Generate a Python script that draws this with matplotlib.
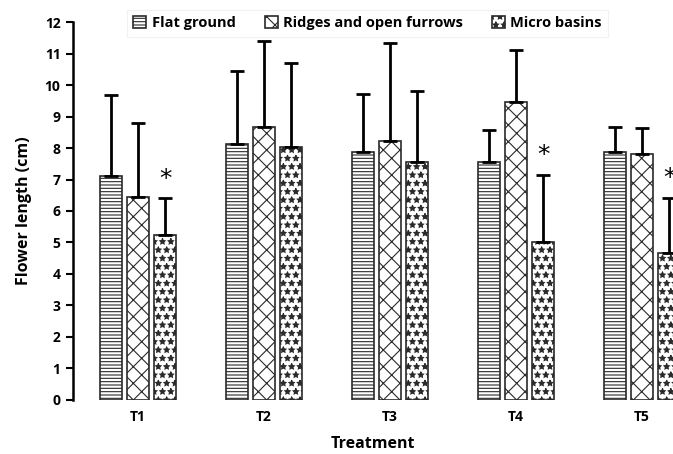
import matplotlib
matplotlib.use('Agg')
import matplotlib.pyplot as plt
import numpy as np

treatments = ['T1', 'T2', 'T3', 'T4', 'T5']
series = ['Flat ground', 'Ridges and open furrows', 'Micro basins']
flat = [7.10, 8.13, 7.87, 7.56, 7.87]
ridges = [6.44, 8.67, 8.22, 9.46, 7.80]
micro = [5.25, 8.03, 7.56, 5.00, 4.66]
flat_err = [2.58, 2.31, 1.84, 1.01, 0.80]
ridges_err = [2.35, 2.73, 3.11, 1.64, 0.83]
micro_err = [1.15, 2.67, 2.25, 2.14, 1.75]
# treatments marked with an asterisk above the micro basins bar
star = [True, False, False, True, True]

plt.rcParams['font.family'] = ['Open Sans', 'DejaVu Sans']
plt.rcParams['hatch.linewidth'] = 0.8
plt.rcParams['hatch.color'] = '#222222'

fig = plt.figure(figsize=(6.73, 4.54), dpi=100)
ax = fig.add_axes([0.1085, 0.119, 0.8915, 0.8325])

x = np.arange(len(treatments))
step = 0.215
width = 0.18
hatches = ['-----', 'xx', '**']
values = [flat, ridges, micro]
errors = [flat_err, ridges_err, micro_err]

for i, (vals, errs, h, name) in enumerate(zip(values, errors, hatches, series)):
    pos = x + (i - 1) * step
    ax.bar(pos, vals, width, color='white', edgecolor='#2a2a2a', linewidth=1.2,
           hatch=h, label=name, zorder=2)
    ax.errorbar(pos, vals, yerr=[np.zeros(len(vals)), errs], fmt='none',
                ecolor='black', elinewidth=2, capsize=5, capthick=2, zorder=3)

for xi, v, e, s in zip(x, micro, micro_err, star):
    if s:
        ax.text(xi + step, v + e + 0.25, '*', ha='center', va='bottom',
                fontsize=18, family='DejaVu Sans', clip_on=True)

ax.set_xlim(-0.516, 4.246)
ax.set_ylim(0, 12)
ax.set_yticks(range(0, 13))
ax.set_xticks(x)
ax.set_xticklabels(treatments, fontsize=10, fontweight='bold')
ax.tick_params(axis='x', length=0, pad=7)
ax.tick_params(axis='y', direction='out', length=5, width=1.5, labelsize=10, pad=4)
for lab in ax.get_yticklabels():
    lab.set_fontweight('bold')

for side in ['top', 'right', 'bottom']:
    ax.spines[side].set_visible(False)
ax.spines['left'].set_linewidth(1.8)

ax.set_ylabel('Flower length (cm)', fontsize=11.5, fontweight='bold', labelpad=9)
ax.set_xlabel('Treatment', fontsize=11.5, fontweight='bold', labelpad=9)

leg = fig.legend(loc='upper center', bbox_to_anchor=(0.546, 0.995), ncol=3,
                 frameon=True, fancybox=False, prop={'weight': 'bold', 'size': 10.5},
                 handlelength=0.9, handleheight=0.9, handletextpad=0.35,
                 columnspacing=2.0, borderpad=0.45)
leg.get_frame().set_edgecolor('#eeeeee')
leg.get_frame().set_linewidth(0.8)

plt.savefig('out.png', dpi=100)
plt.close()
